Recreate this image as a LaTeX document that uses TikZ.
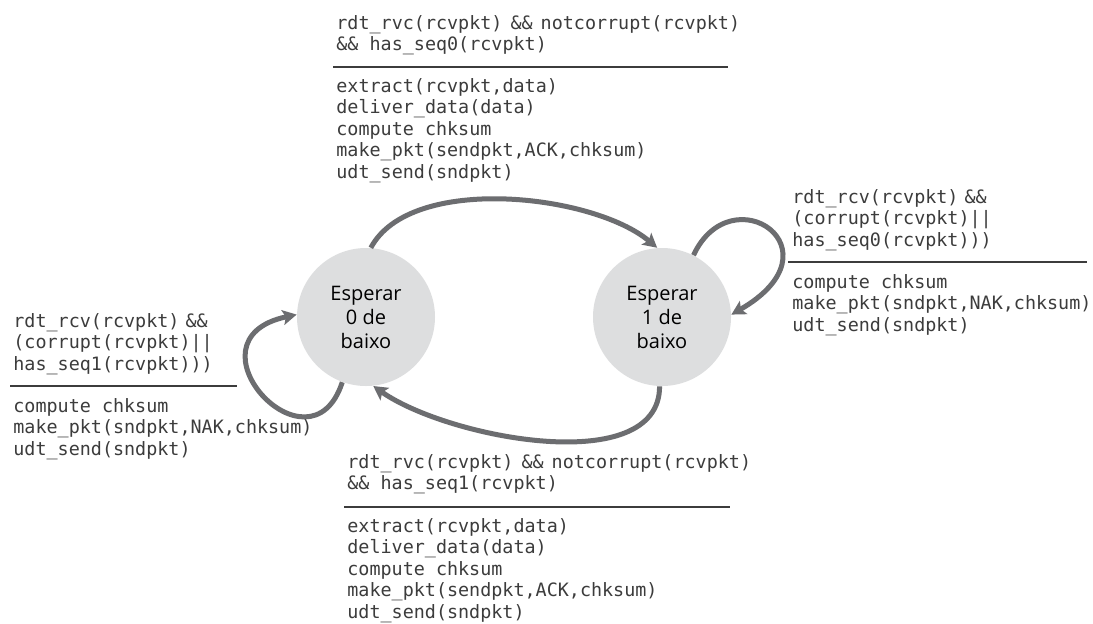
\documentclass[tikz,border=0pt]{standalone}
\usepackage{fontspec}
\setmainfont{Open Sans}
\setmonofont{DejaVu Sans Mono}
\usetikzlibrary{arrows.meta,positioning}
\definecolor{loopgray}{RGB}{108,109,112}
\definecolor{statefill}{RGB}{221,222,223}
\definecolor{codegray}{RGB}{60,60,60}
\newcommand{\codefont}{\fontsize{9.2}{10.75}\selectfont\ttfamily}

\begin{document}
\begin{tikzpicture}[x=0.5pt,y=-0.5pt,
state/.style={circle, fill=statefill, minimum size=69pt, inner sep=0pt, align=center, font=\fontsize{10}{12}\selectfont, text=black},
trans/.style={-{Stealth[length=7pt,width=7.5pt,inset=1.5pt]}, line width=2.5pt, loopgray},
code/.style={anchor=north west, inner sep=0pt, align=left, font=\codefont, text=codegray},
rule/.style={line width=0.9pt, codegray}
]
\path[use as bounding box, fill=white] (0,0) rectangle (1093,623);

\node[state] (s0) at (366,317) {Esperar\\0 de\\baixo};
\node[state] (s1) at (662,317) {Esperar\\1 de\\baixo};

\draw[trans] (s0.86) to[out=62,in=140,distance=42pt] (s1.94);
\draw[trans] (s1.-92) to[out=-90,in=-35,distance=46pt] (s0.-84);
\draw[trans] (s0.-110) to[out=-108,in=192,out distance=52pt,in distance=60pt] (s0.178);
\draw[trans] (s1.63) to[out=65,in=30,out distance=45pt,in distance=65pt] (s1.2);

% 0 -> 1
\node[code] (g01) at (336,14) {\strut rdt\_rvc(rcvpkt)\hspace{4pt}\&\&\hspace{4pt}notcorrupt(rcvpkt)\\\&\& has\_seq0(rcvpkt)};
\draw[rule] (333,67) -- (728,67);
\node[code] (a01) at (336,77) {\strut extract(rcvpkt,data)\\deliver\_data(data)\\compute chksum\\make\_pkt(sendpkt,ACK,chksum)\\udt\_send(sndpkt)};

% 1 -> 1
\node[code] (g11) at (792,188) {\strut rdt\_rcv(rcvpkt)\hspace{3pt}\&\&\\(corrupt(rcvpkt)||\\has\_seq0(rcvpkt)))};
\draw[rule] (788,262) -- (1087,262);
\node[code] (a11) at (792,273) {\strut compute chksum\\make\_pkt(sndpkt,NAK,chksum)\\udt\_send(sndpkt)};

% 0 -> 0
\node[code] (g00) at (13,312) {\strut rdt\_rcv(rcvpkt)\hspace{3pt}\&\&\\(corrupt(rcvpkt)||\\has\_seq1(rcvpkt)))};
\draw[rule] (10,386) -- (237,386);
\node[code] (a00) at (13,397) {\strut compute chksum\\make\_pkt(sndpkt,NAK,chksum)\\udt\_send(sndpkt)};

% 1 -> 0
\node[code] (g10) at (347,453) {\strut rdt\_rvc(rcvpkt)\hspace{4pt}\&\&\hspace{4pt}notcorrupt(rcvpkt)\\\&\& has\_seq1(rcvpkt)};
\draw[rule] (344,507) -- (730,507);
\node[code] (a10) at (347,517) {\strut extract(rcvpkt,data)\\deliver\_data(data)\\compute chksum\\make\_pkt(sendpkt,ACK,chksum)\\udt\_send(sndpkt)};
\end{tikzpicture}
\end{document}
